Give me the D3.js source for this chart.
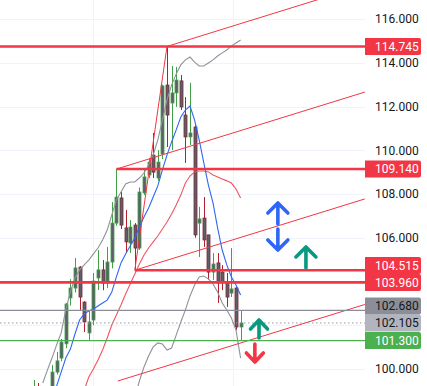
<!doctype html>
<html lang="en">
<head>
<meta charset="utf-8">
<script src="https://cdnjs.cloudflare.com/ajax/libs/d3/7.8.5/d3.min.js"></script>
<style>
  html, body { margin: 0; padding: 0; background: #fff; }
  svg { display: block; font-family: Roboto, "Liberation Sans", sans-serif; }
</style>
</head>
<body>
<div id="chart"></div>
<script>
// candles, one per bar index
var opens  = [98.9, 99.1, 98.9, 98.8, 99.1, 99.86, 100.50, 101.15, 103.25, 103.70, 104.66, 103.06, 101.65, 102.24, 104.16, 104.53, 103.93, 104.89, 106.67, 107.82, 106.45, 105.76, 106.58, 105.53, 108.05, 108.87, 109.78, 108.73, 109.83, 112.98, 112.16, 112.62, 113.17, 111.61, 110.61, 111.06, 106.67, 106.90, 106.13, 104.43, 104.85, 104.43, 103.93, 103.47, 103.70, 101.92];
var highs  = [99.5, 99.36, 99.1, 99.15, 100.18, 100.78, 101.37, 103.02, 104.11, 105.07, 104.70, 103.1, 102.70, 104.39, 105.44, 104.98, 105.58, 107.63, 109.14, 108.1, 107.27, 106.81, 106.67, 108.3, 109.19, 109.65, 110.79, 110.01, 113.0, 114.745, 113.85, 113.81, 113.44, 112.43, 113.08, 111.15, 107.41, 107.86, 106.13, 105.30, 105.30, 104.75, 104.39, 105.53, 103.75, 102.65];
var lows   = [98.8, 98.7, 98.5, 98.6, 98.95, 99.75, 100.35, 100.95, 102.9, 103.5, 102.70, 101.69, 101.33, 102.0, 103.61, 103.6, 103.7, 104.6, 106.55, 106.4, 105.30, 105.30, 104.515, 105.44, 107.95, 108.73, 108.73, 108.6, 109.6, 110.15, 110.01, 111.98, 111.84, 109.42, 110.24, 106.0, 105.12, 105.58, 104.07, 104.07, 103.02, 103.61, 102.84, 103.29, 101.78, 101.30];
var closes = [99.1, 98.9, 98.8, 99.0, 99.86, 100.37, 101.23, 102.97, 103.70, 104.62, 103.29, 102.15, 102.15, 104.02, 104.53, 103.93, 104.89, 106.67, 107.86, 106.58, 105.81, 106.49, 105.53, 108.09, 108.78, 109.46, 109.0, 109.46, 112.94, 111.61, 112.62, 113.21, 111.98, 110.61, 110.79, 106.13, 106.86, 105.90, 104.43, 104.80, 103.93, 103.98, 103.29, 103.66, 101.92, 102.105];

// indicator lines, each starting at a bar index
var blueStart = 4;
var blueLine = [98.58, 99.22, 99.86, 100.50, 100.91, 101.60, 102.24, 102.52, 102.65, 102.74, 102.88, 103.02, 103.15, 103.52, 104.21, 104.85, 105.26, 105.62, 105.99, 106.49, 106.95, 107.36, 107.86, 108.37, 109.10, 109.78, 110.38, 110.93, 111.52, 111.84, 112.02, 111.38, 110.47, 109.42, 108.41, 107.59, 106.45, 105.44, 104.76, 104.21, 103.84, 103.38];
var upperStart = 2;
var upperBand = [99.36, 99.95, 100.50, 101.10, 101.65, 102.70, 103.52, 104.16, 104.53, 104.76, 104.98, 105.26, 105.53, 105.90, 106.35, 107.04, 107.73, 108.09, 108.46, 108.55, 108.55, 108.73, 108.96, 109.33, 109.78, 110.47, 111.38, 112.30, 112.98, 113.49, 113.90, 114.13, 114.26, 114.03, 113.85, 113.85, 113.99, 114.13, 114.31, 114.45, 114.58, 114.77, 114.90, 115.04];
var lowerStart = 22;
var lowerBand = [98.67, 99.45, 100.09, 100.59, 101.01, 101.19, 101.14, 100.87, 100.96, 101.55, 102.15, 102.70, 103.34, 103.84, 104.21, 104.25, 104.12, 103.89, 103.52, 103.02, 102.70, 102.33, 101.78, 100.50];
var redStart = 11;
var redLine = [99.04, 99.63, 100.00, 100.41, 100.87, 101.42, 102.01, 102.47, 102.93, 103.43, 103.89, 104.34, 104.80, 105.21, 105.53, 105.81, 106.08, 106.40, 106.72, 107.09, 107.50, 107.95, 108.50, 108.82, 109.01, 109.05, 109.05, 109.01, 108.87, 108.78, 108.69, 108.60, 108.50, 108.23, 107.82];

// drawings: channel lines as [bar, price] pairs
var channelLines = [
  [[29, 114.745], [72, 117.55]],
  [[18, 109.14], [72, 112.66]],
  [[22, 104.515], [72, 107.775]],
  [[18.3, 99.45], [72, 102.95]],
  [[22, 104.515], [29, 114.745]]
];
// horizontal levels and the bar they start from (null = left edge)
var levels     = [114.745, 109.140, 104.515, 103.960, 102.680, 102.105, 101.300];
var levelStart = [null, 18, 22, null, null, null, null];
var levelKind  = ["red", "red", "red", "red", "gray", "last", "green"];

var priceTicks = [100, 102, 104, 106, 108, 110, 112, 114, 116];
var timeGrid = [12.9, 43.3];

// arrow icons: bar, tip price, direction
var arrowBars  = [53.1, 53.1, 59.2, 49.0, 48.1];
var arrowTips  = [107.59, 105.44, 105.58, 102.24, 100.32];
var arrowDirs  = ["up", "down", "up", "up", "down"];
var arrowKind  = ["blue", "blue", "teal", "teal", "red"];

var width = 427, height = 386, plotW = 365;

var x = d3.scaleLinear().domain([-7.3, 72.04]).range([0, plotW]);
var y = d3.scaleLinear().domain([116, 100]).range([19, 369]);

var svg = d3.select("#chart").append("svg")
    .attr("width", width)
    .attr("height", height);

svg.append("defs").append("clipPath").attr("id", "plotclip")
  .append("rect").attr("x", 0).attr("y", 0).attr("width", plotW).attr("height", height);

// grid
svg.append("g").selectAll("line").data(priceTicks).enter().append("line")
    .attr("x1", 0).attr("x2", plotW)
    .attr("y1", function(d) { return Math.round(y(d)) + 0.5; })
    .attr("y2", function(d) { return Math.round(y(d)) + 0.5; })
    .attr("stroke", "#f0f3fa");
svg.append("g").selectAll("line").data(timeGrid).enter().append("line")
    .attr("x1", function(d) { return Math.round(x(d)) + 0.5; })
    .attr("x2", function(d) { return Math.round(x(d)) + 0.5; })
    .attr("y1", 0).attr("y2", height)
    .attr("stroke", "#f0f3fa");

var plot = svg.append("g").attr("clip-path", "url(#plotclip)");

// candles
var bars = d3.range(opens.length);
var up = function(i) { return closes[i] >= opens[i]; };
var cg = plot.append("g");
cg.selectAll("line").data(bars).enter().append("line")
    .attr("x1", function(i) { return Math.round(x(i)) + 0.5; })
    .attr("x2", function(i) { return Math.round(x(i)) + 0.5; })
    .attr("y1", function(i) { return y(highs[i]); })
    .attr("y2", function(i) { return y(lows[i]); })
    .attr("stroke", function(i) { return up(i) ? "#43a047" : "#b2202e"; })
    .attr("stroke-width", 1);
cg.selectAll("rect").data(bars).enter().append("rect")
    .attr("x", function(i) { return Math.round(x(i)) - 1; })
    .attr("width", 3)
    .attr("y", function(i) { return y(Math.max(opens[i], closes[i])); })
    .attr("height", function(i) { return Math.max(1, Math.abs(y(opens[i]) - y(closes[i]))); })
    .attr("fill", "#5d606b")
    .attr("stroke", function(i) { return up(i) ? "#43a047" : "#7a2a33"; })
    .attr("stroke-width", 0.8);

// indicator lines
var line = d3.line()
    .x(function(d) { return x(d[0]); })
    .y(function(d) { return y(d[1]); });
function series(start, vals) {
  return vals.map(function(v, k) { return [start + k, v]; });
}
[[series(redStart, redLine), "#f2545f"],
 [series(upperStart, upperBand), "#8f929b"],
 [series(lowerStart, lowerBand), "#8f929b"],
 [series(blueStart, blueLine), "#2f66f5"]].forEach(function(s) {
  plot.append("path").datum(s[0])
      .attr("d", line)
      .attr("fill", "none")
      .attr("stroke", s[1])
      .attr("stroke-width", 1.1);
});

// channel drawings
plot.append("g").selectAll("path").data(channelLines).enter().append("path")
    .attr("d", line)
    .attr("fill", "none")
    .attr("stroke", "#f23645")
    .attr("stroke-width", 1);

// horizontal levels
var levelStyle = {
  red:   { stroke: "#f23645", width: 2.6, dash: null, box: "#f23645", text: "#ffffff" },
  gray:  { stroke: "#8b8e97", width: 1.3, dash: null, box: "#8b8e97", text: "#131722" },
  last:  { stroke: "#9598a1", width: 1,   dash: "1.5,2.5", box: "#b2b5be", text: "#131722" },
  green: { stroke: "#4caf50", width: 1.2, dash: null, box: "#4caf50", text: "#ffffff" }
};
levels.forEach(function(v, k) {
  var st = levelStyle[levelKind[k]];
  plot.append("line")
      .attr("x1", levelStart[k] === null ? 0 : x(levelStart[k]))
      .attr("x2", plotW)
      .attr("y1", y(v)).attr("y2", y(v))
      .attr("stroke", st.stroke)
      .attr("stroke-width", st.width)
      .attr("stroke-dasharray", st.dash);
});

// arrows
var arrowColor = { blue: "#2f66f5", teal: "#089981", red: "#f23645" };
arrowBars.forEach(function(b, k) {
  var tx = x(b), ty = y(arrowTips[k]);
  var big = arrowKind[k] === "blue" || arrowTips[k] > 105;
  var len = big ? 21 : 18, hw = big ? 10 : 8.5, hh = big ? 10 : 9;
  var s = arrowDirs[k] === "up" ? 1 : -1;
  var d = "M" + (tx - hw) + "," + (ty + s * hh) + "L" + tx + "," + ty + "L" + (tx + hw) + "," + (ty + s * hh) +
          "M" + tx + "," + ty + "L" + tx + "," + (ty + s * len);
  svg.append("path").attr("d", d)
      .attr("fill", "none")
      .attr("stroke", arrowColor[arrowKind[k]])
      .attr("stroke-width", 3.6)
      .attr("stroke-linecap", "round")
      .attr("stroke-linejoin", "round");
});

// level labels on the axis, pushed apart when they overlap
var boxH = 17;
var lab = levels.map(function(v, k) { return { v: v, k: k, cy: y(v) }; })
    .sort(function(a, b) { return b.cy - a.cy; });
for (var n = 1; n < lab.length; n++) {
  if (lab[n - 1].cy - lab[n].cy < boxH) lab[n].cy = lab[n - 1].cy - boxH;
}

// price axis: ticks hidden behind a level label are left out
var shownTicks = priceTicks.filter(function(t) {
  return lab.every(function(l) { return Math.abs(y(t) - l.cy) > 14.5; });
});
var axis = svg.append("g")
    .attr("transform", "translate(" + plotW + ",0)")
    .call(d3.axisRight(y).tickValues(shownTicks).tickFormat(d3.format(".3f")).tickSize(0).tickPadding(10));
axis.select(".domain").remove();
axis.selectAll("text")
    .attr("font-size", 12)
    .attr("font-family", "Roboto, 'Liberation Sans', sans-serif")
    .attr("fill", "#131722");

var lg = svg.append("g");
lab.forEach(function(l) {
  var st = levelStyle[levelKind[l.k]];
  lg.append("path")
      .attr("d", "M" + plotW + "," + (l.cy - boxH / 2) + "h54a2,2 0 0 1 2,2v" + (boxH - 4) +
                 "a2,2 0 0 1 -2,2h-54z")
      .attr("fill", st.box);
  lg.append("text")
      .attr("x", plotW + 10)
      .attr("y", l.cy)
      .attr("dy", "0.35em")
      .attr("font-size", 12)
      .attr("fill", st.text)
      .text(d3.format(".3f")(l.v));
});
</script>
</body>
</html>
